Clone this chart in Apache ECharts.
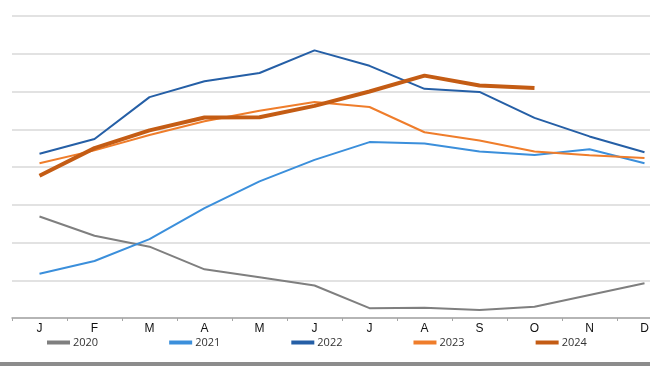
<!DOCTYPE html>
<html>
<head>
<meta charset="utf-8">
<script src="https://cdn.jsdelivr.net/npm/echarts@6/dist/echarts.min.js"></script>
<style>
  html, body { margin: 0; padding: 0; background: #fff; overflow: hidden; }
  /* wider than the window: the plot runs past the right edge, cutting the D label */
  #chart { width: 680px; height: 366px; }
</style>
</head>
<body>
<div id="chart"></div>
<script>
// Monthly series, one line per year (0-80 scale)
const months = ['J', 'F', 'M', 'A', 'M', 'J', 'J', 'A', 'S', 'O', 'N', 'D']
const y2020 = [26.9, 21.8, 18.9, 12.9, 10.8, 8.6, 2.6, 2.7, 2.1, 3.0, 6.1, 9.2]
const y2021 = [11.7, 15.1, 20.9, 29.1, 36.2, 41.9, 46.6, 46.2, 44.1, 43.2, 44.7, 41.0]
const y2022 = [43.5, 47.4, 58.5, 62.7, 64.9, 70.9, 66.8, 60.7, 59.9, 53.0, 48.1, 43.9]
const y2023 = [41.0, 44.4, 48.5, 52.1, 54.9, 57.2, 55.9, 49.2, 47.0, 44.1, 43.1, 42.4]
const y2024 = [37.7, 45.0, 49.7, 53.1, 53.2, 56.2, 60.0, 64.2, 61.6, 60.9]

const SERIES = [
  { name: '2020', data: y2020, color: '#7f7f7f', width: 2 },
  { name: '2021', data: y2021, color: '#3b8fdb', width: 2 },
  { name: '2022', data: y2022, color: '#255fa6', width: 2 },
  { name: '2023', data: y2023, color: '#ef7d2b', width: 2 },
  { name: '2024', data: y2024, color: '#c45c14', width: 4 },
]

const chart = echarts.init(document.getElementById('chart'))
chart.setOption({
  animation: false,
  textStyle: { fontFamily: '"Open Sans", sans-serif' },
  grid: { left: 12, right: 8, top: 16, bottom: 48 },
  legend: {
    bottom: 13, left: 42, itemGap: 71, itemWidth: 23, itemHeight: 4,
    icon: 'rect',
    textStyle: { color: '#333', fontSize: 11, padding: [0, 0, 0, -2] },
    data: SERIES.map((s) => ({ name: s.name, itemStyle: { color: s.color } })),
  },
  xAxis: {
    type: 'category', data: months, boundaryGap: true,
    axisLine: { lineStyle: { color: '#a6a6a6', width: 1.5 } },
    axisTick: { show: true, length: 3, lineStyle: { color: '#a6a6a6' } },
    axisLabel: { color: '#111', fontSize: 12, margin: 5, fontFamily: '"Liberation Sans", sans-serif' },
  },
  yAxis: {
    type: 'value', min: 0, max: 80, interval: 10,
    axisLabel: { show: false }, axisLine: { show: false }, axisTick: { show: false },
    splitLine: { lineStyle: { color: '#d9d9d9', width: 1.5 } },
  },
  series: SERIES.map((s) => ({
    name: s.name, type: 'line', data: s.data,
    showSymbol: false, symbol: 'none',
    lineStyle: { color: s.color, width: s.width },
    itemStyle: { color: s.color },
  })),
  graphic: [{
    type: 'rect', left: 0, bottom: 0,
    shape: { width: 680, height: 4 },
    style: { fill: '#8c8c8c' },
  }],
})
</script>
</body>
</html>
